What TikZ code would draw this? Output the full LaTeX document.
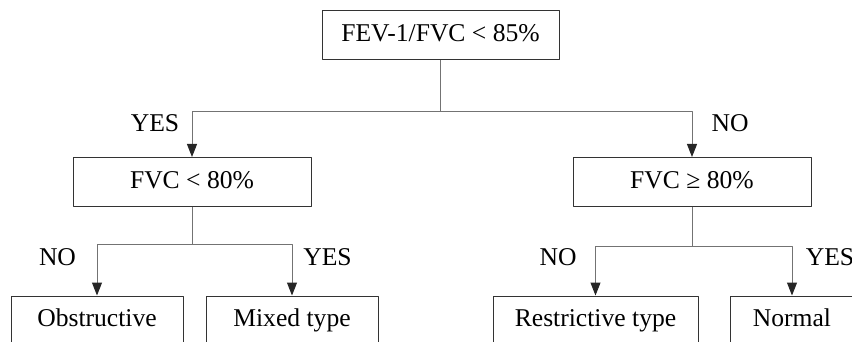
\documentclass[tikz,border=0pt]{standalone}
\usepackage{fontspec}
\setmainfont{Liberation Serif}
\usepackage{tikz}
\usetikzlibrary{arrows.meta, positioning}

\begin{document}
\begin{tikzpicture}[x=0.5pt, y=-0.5pt, line join=round, font=\fontsize{12.8}{15}\selectfont]
   % Styles
   \tikzset{
    box/.style={draw=black!80, line width=0.5pt, minimum height=24.5pt, inner sep=0pt,
      text height=9pt, text depth=2.5pt},
    leaf/.style={box, minimum height=24pt},
    link/.style={line width=0.5pt, draw=gray!90!black},
    arr/.style={link, -{Triangle[length=6.5pt, width=5pt, color=black!85]}},
    lbl/.style={inner sep=0pt}
   }
  \clip (0,0) rectangle (852,342);
  % Nodes
  \node[box, minimum width=118.5pt] (root) at (440.5,35.5) {FEV-1/FVC < 85\%};
  \node[box, minimum width=119pt]   (lv)   at (192,182)   {FVC < 80\%};
  \node[box, minimum width=119pt]   (rv)   at (692,182)   {FVC ≥ 80\%};
  \node[leaf, minimum width=86pt]   (obs)  at (97,320)    {Obstructive};
  \node[leaf, minimum width=86pt]   (mix)  at (292,320)   {Mixed type};
  \node[leaf, minimum width=102.5pt] (res) at (595.5,320) {Restrictive type};
  \node[leaf, minimum width=62pt]   (nor)  at (792,320)   {Normal};
  % Labels
  \node[lbl] (yes1) at (155,123)   {YES};
  \node[lbl] (no1)  at (730,123)   {NO};
  \node[lbl] (no2)  at (57.5,257)  {NO};
  \node[lbl] (yes2) at (327.5,257) {YES};
  \node[lbl] (no3)  at (558,257)   {NO};
  \node[lbl] (yes3) at (830,257)   {YES};
  % Edges
  \draw[link] (root.south) -- ++(0,51) coordinate (j0);
  \draw[arr] (j0) -| (lv.north);
  \draw[arr] (j0) -| (rv.north);
  \draw[link] (lv.south) -- ++(0,37) coordinate (j1);
  \draw[arr] (j1) -| (obs.north);
  \draw[arr] (j1) -| (mix.north);
  \draw[link] (rv.south) -- ++(0,39) coordinate (j2);
  \draw[arr] (j2) -| (res.north);
  \draw[arr] (j2) -| (nor.north);
\end{tikzpicture}
\end{document}
